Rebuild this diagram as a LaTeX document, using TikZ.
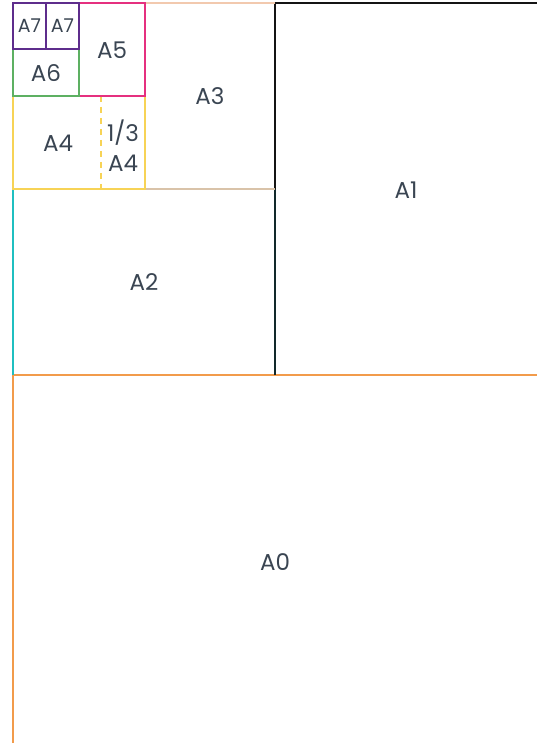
\documentclass[tikz,border=0pt]{standalone}
\usepackage{fontspec}
\setmainfont{Poppins}
\definecolor{txt}{HTML}{3A4552}
\definecolor{cA0}{HTML}{F29B4B}
\definecolor{cA1}{HTML}{141414}
\definecolor{cA1b}{HTML}{12292B}
\definecolor{cA2}{HTML}{1FBFC0}
\definecolor{cA3t}{HTML}{F2C9AE}
\definecolor{cA3b}{HTML}{D9C3A9}
\definecolor{cA4}{HTML}{F7D356}
\definecolor{cA5}{HTML}{E5307F}
\definecolor{cA6}{HTML}{5DB062}
\definecolor{cA7}{HTML}{5E2D8C}
\tikzset{
  edge/.style={line width=2.6pt},
  lbl/.style={text=txt, font=\fontsize{23}{30}\selectfont, inner sep=0pt, align=center},
  lblsmall/.style={text=txt, font=\fontsize{19}{22}\selectfont, inner sep=0pt},
}
\begin{document}
\begin{tikzpicture}[x=1pt,y=-1pt]
\useasboundingbox[fill=white] (0,0) rectangle (536,743);
% A0
\draw[edge, cA0] (13,750) -- (13,375) -- (540,375);
% A2
\draw[edge, cA2] (13,375) -- (13,189);
% A1
\draw[edge, cA1b] (275,375) -- (275,189);
\draw[edge, cA1] (275,189) -- (275,3) -- (540,3);
% A3
\draw[edge, cA3t] (145,3) -- (275,3);
\draw[edge, cA3b] (145,189) -- (275,189);
% A4
\draw[edge, cA4] (13,96) rectangle (145,189);
\draw[line width=2.2pt, cA4, dash pattern=on 6pt off 5pt] (101,96) -- (101,189);
% A5
\draw[edge, cA5] (79,3) rectangle (145,96);
% A6
\draw[edge, cA6] (13,49) rectangle (79,96);
% A7
\draw[edge, cA7] (13,3) rectangle (46,49);
\draw[edge, cA7] (46,3) rectangle (79,49);
% labels
\node[lbl] (lA0) at (275,562) {A0};
\node[lbl] (lA1) at (406,190) {A1};
\node[lbl] (lA2) at (144,282) {A2};
\node[lbl] (lA3) at (210,96) {A3};
\node[lbl] (lA4) at (58,143) {A4};
\node[lbl] (lA4t) at (123,146) {1/3\\A4};
\node[lbl] (lA5) at (112,50) {A5};
\node[lbl] (lA6) at (46,73) {A6};
\node[lblsmall] (lA7a) at (29.5,26) {A7};
\node[lblsmall] (lA7b) at (62.5,26) {A7};
\end{tikzpicture}
\end{document}
